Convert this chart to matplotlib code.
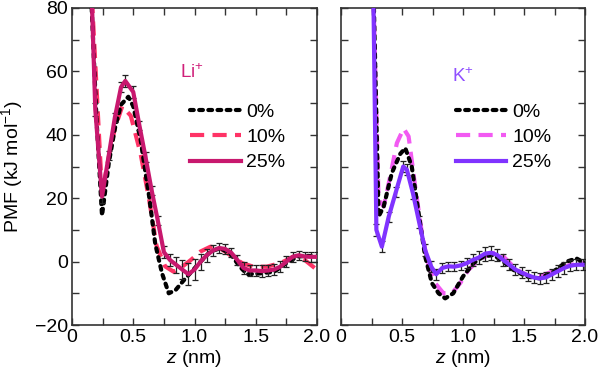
import matplotlib
matplotlib.use("Agg")
import matplotlib.pyplot as plt
from matplotlib.ticker import MultipleLocator, FixedLocator, FixedFormatter

plt.rcParams['font.family'] = ['Liberation Sans', 'DejaVu Sans']
plt.rcParams['mathtext.fontset'] = 'custom'
plt.rcParams['mathtext.it'] = 'Liberation Sans:italic'
plt.rcParams['mathtext.rm'] = 'Liberation Sans'

# ---------------- data: Li+ panel ----------------
li0_x = [0.155, 0.20, 0.245, 0.30, 0.35, 0.40, 0.46, 0.50, 0.56, 0.60, 0.63, 0.68, 0.735, 0.79,
         0.845, 0.91, 0.98, 1.05, 1.13, 1.21, 1.29, 1.37, 1.43, 1.54, 1.65, 1.75, 1.84, 1.92, 2.00]
li0_y = [85, 45, 14.5, 31, 42, 49.5, 52, 49, 38.5, 28, 20.5, 5.5, -3.7, -10,
         -9, -6, -3, 0, 3.2, 4.2, 2.6, -1.6, -4, -3.7, -3.2, -0.5, 1.6, 1.8, 1.6]

li10_x = [0.16, 0.245, 0.30, 0.35, 0.41, 0.48, 0.56, 0.63, 0.69, 0.76, 0.83, 0.90, 0.97, 1.05,
          1.13, 1.21, 1.29, 1.39, 1.48, 1.59, 1.70, 1.81, 1.90, 2.00]
li10_y = [85, 21.5, 33, 42, 49, 46, 34, 19.5, 5, -1.5, -3.2, -1.6, 0.5, 3.2,
          4.7, 4.2, 2.1, -0.5, -1.6, -1.6, -0.5, 1.6, 0.5, -2.6]

li25_x = [0.16, 0.19, 0.245, 0.30, 0.35, 0.40, 0.435, 0.50, 0.55, 0.60, 0.65, 0.70, 0.75, 0.80,
          0.85, 0.90, 0.95, 1.00, 1.05, 1.10, 1.15, 1.20, 1.25, 1.30, 1.35, 1.40, 1.45, 1.50,
          1.55, 1.60, 1.65, 1.70, 1.75, 1.80, 1.85, 1.90, 1.95, 2.00]
li25_y = [85, 48, 20.5, 33.5, 45.5, 55, 57, 53.5, 43, 33, 22.5, 13, 3, 0.5,
          -1, -2.5, -4, -2.5, 0, 2, 3.5, 4.3, 4, 2.8, 0.5, -2, -2.8, -2.8,
          -3, -2.8, -2.5, -1.6, 0, 1.5, 2, 1.6, 1.5, 1.5]
li25_err = [0, 2, 2, 1.5, 1.5, 1.5, 1.8, 1.8, 1.5, 1.5, 1.5, 1.5, 1.8, 2,
            2.5, 3, 3.5, 3.2, 2.5, 2, 1.8, 1.5, 1.5, 1.5, 1.5, 1.8, 1.8, 1.8,
            1.8, 1.8, 1.8, 1.8, 1.8, 1.6, 1.5, 1.5, 1.5, 1.5]

# ---------------- data: K+ panel ----------------
k0_x = [0.267, 0.308, 0.35, 0.417, 0.486, 0.527, 0.58, 0.636, 0.69, 0.745, 0.80, 0.854, 0.92,
        1.00, 1.086, 1.168, 1.25, 1.33, 1.413, 1.52, 1.63, 1.74, 1.85, 1.93, 2.00]
k0_y = [85, 14.2, 17.4, 28, 34, 35.8, 30, 15.3, 1.6, -6.8, -10, -11.6, -10,
        -4.7, -0.5, 1.6, 2.1, 0, -2.6, -4.7, -5.3, -3.2, 0, 1, -0.5]

k10_x = [0.265, 0.308, 0.35, 0.404, 0.458, 0.513, 0.554, 0.608, 0.663, 0.718, 0.772, 0.84, 0.909,
         0.977, 1.045, 1.127, 1.209, 1.29, 1.36, 1.44, 1.55, 1.66, 1.77, 1.88, 2.00]
k10_y = [85, 19.5, 17.4, 27, 37.4, 42, 39.5, 23.7, 9, -1.6, -6.8, -10, -10,
         -6.8, -2.6, 0.5, 2.1, 3.2, 0.5, -2.6, -4.7, -4.2, -2.6, -1, -0.5]

k25_x = [0.265, 0.29, 0.335, 0.39, 0.45, 0.51, 0.54, 0.59, 0.64, 0.69, 0.74, 0.78, 0.83, 0.88,
         0.93, 0.98, 1.03, 1.08, 1.13, 1.18, 1.23, 1.28, 1.33, 1.38, 1.43, 1.48, 1.53, 1.58,
         1.63, 1.68, 1.73, 1.78, 1.83, 1.88, 1.93, 1.98]
k25_y = [85, 10, 4.7, 14, 22, 30, 29, 21.5, 12.5, 3.6, -1.6, -4, -2, -1.5,
         -1.6, -1.2, -0.5, 0.5, 1.3, 2.5, 2.8, 2.1, 0.5, -1, -2.5, -3.5, -4.3, -5,
         -5.3, -5, -4, -3, -2, -1.3, -1, -1]
k25_err = [0, 2, 1.8, 1.5, 1.5, 1.8, 1.8, 1.8, 1.8, 1.8, 1.8, 1.8, 1.5, 1.5,
           1.5, 1.5, 1.5, 1.8, 2, 2.2, 2.2, 2, 1.8, 1.8, 1.8, 1.8, 1.8, 1.8,
           1.8, 1.8, 1.8, 1.8, 1.8, 1.8, 1.8, 1.8]

labels = ['0%', '10%', '25%']
xticks = [0, 0.5, 1.0, 1.5, 2.0]
xticklabels = ['0', '0.5', '1.0', '1.5', '2.0']
yticks = [-20, 0, 20, 40, 60, 80]

li_colors = ['black', '#ff3366', '#c8186e']
k_colors = ['black', '#f25af2', '#8033ff']
li_text_color = '#d0207a'
k_text_color = '#9050ff'

FS = 14
W, H = 600, 378
fig = plt.figure(figsize=(W / 100, H / 100), dpi=100)
ax1 = fig.add_axes([72 / W, 1 - 325 / H, (317 - 72) / W, (325 - 8) / H])
ax2 = fig.add_axes([341 / W, 1 - 325 / H, (585 - 341) / W, (325 - 8) / H])

lw = 3.0
dot_style = dict(linestyle=(0, (0.9, 1.3)), dash_capstyle='round')
dash_style = dict(linestyle=(0, (3.4, 2.0)), dash_capstyle='butt')


def panel(ax, d0, d10, d25, err, colors, ion, ioncolor, ionpos, legpos):
    l0, = ax.plot(d0[0], d0[1], color=colors[0], lw=lw, zorder=3, **dot_style)
    l1, = ax.plot(d10[0], d10[1], color=colors[1], lw=lw, zorder=2, **dash_style)
    cont = ax.errorbar(d25[0], d25[1], yerr=err, color=colors[2], lw=lw, ecolor='#222222',
                       elinewidth=0.9, capsize=2.5, capthick=0.9, zorder=4)
    ax.set_xlim(0, 2.0)
    ax.set_ylim(-20, 80)
    ax.xaxis.set_major_locator(FixedLocator(xticks))
    ax.xaxis.set_major_formatter(FixedFormatter(xticklabels))
    ax.xaxis.set_minor_locator(MultipleLocator(0.25))
    ax.yaxis.set_major_locator(FixedLocator(yticks))
    ax.yaxis.set_minor_locator(MultipleLocator(10))
    ax.tick_params(which='both', direction='in', top=True, right=True, color='#333333',
                   width=1.0, labelsize=FS, pad=3)
    ax.tick_params(which='major', length=5)
    ax.tick_params(which='minor', length=5)
    for s in ax.spines.values():
        s.set_linewidth(1.2)
        s.set_color('#333333')
    ax.set_xlabel(r'$z$ (nm)', fontsize=FS, labelpad=1)
    ax.text(ionpos[0], ionpos[1], ion, transform=ax.transAxes, color=ioncolor,
            fontsize=FS - 0.5, ha='left', va='center')
    ax.legend([l0, l1, cont[0]], labels, loc='upper left', bbox_to_anchor=legpos,
              frameon=False, fontsize=FS, handlelength=2.6, handletextpad=0.3,
              labelspacing=0.4, borderaxespad=0, borderpad=0)


panel(ax1, (li0_x, li0_y), (li10_x, li10_y), (li25_x, li25_y), li25_err,
      li_colors, 'Li$^{+}$', li_text_color, (0.44, 0.795), (0.482, 0.70))
panel(ax2, (k0_x, k0_y), (k10_x, k10_y), (k25_x, k25_y), k25_err,
      k_colors, 'K$^{+}$', k_text_color, (0.455, 0.785), (0.47, 0.70))
ax2.set_yticklabels([])
ax1.set_ylabel('PMF (kJ mol$^{-1}$)', fontsize=FS, labelpad=7)

fig.savefig('out.png', dpi=100)
